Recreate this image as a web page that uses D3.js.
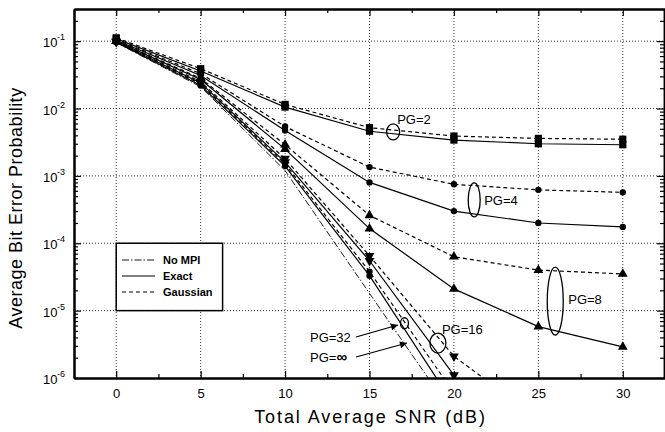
<!DOCTYPE html>
<html>
<head>
<meta charset="utf-8">
<script src="https://cdn.jsdelivr.net/npm/d3@7"></script>
<style>
  body { margin: 0; background: #fff; }
  text { font-family: "Liberation Sans", Arial, Helvetica, sans-serif; fill: #000; }
</style>
</head>
<body>
<script>
(function(){

  //data
  var snr = [0, 5, 10, 15, 20, 25, 30]; //total average SNR (dB)
  var pg2Exact = [0.108, 0.036, 0.0105, 0.0046, 0.0034, 0.0030, 0.0029];
  var pg2Gauss = [0.112, 0.039, 0.0115, 0.0052, 0.0039, 0.0036, 0.0035];
  var pg4Exact = [0.103, 0.031, 0.0047, 8.0e-4, 3.0e-4, 2.0e-4, 1.75e-4];
  var pg4Gauss = [0.105, 0.033, 0.0054, 1.35e-3, 7.5e-4, 6.2e-4, 5.7e-4];
  var pg8Exact = [0.100, 0.027, 0.0025, 1.65e-4, 2.1e-5, 5.8e-6, 2.9e-6];
  var pg8Gauss = [0.101, 0.028, 0.0029, 2.6e-4, 6.3e-5, 4.0e-5, 3.5e-5];
  var pg16Exact = [0.098, 0.024, 0.0016, 5.5e-5, 1.1e-6];
  var pg16Gauss = [0.099, 0.025, 0.0018, 6.5e-5, 2.1e-6, 2.5e-7];
  var pg32Exact = [0.096, 0.022, 0.0014, 3.3e-5, 4.0e-7];
  var pg32Gauss = [0.097, 0.023, 0.0015, 3.8e-5, 6.0e-7];
  var noMpi = [0.095, 0.021, 0.0012, 1.8e-5, 2.8e-7];

  var legendLabels = ["No MPI", "Exact", "Gaussian"];
  var xTicks = [0, 5, 10, 15, 20, 25, 30];
  var xMinorTicks = [-2.5, 2.5, 7.5, 12.5, 17.5, 22.5, 27.5, 32.5];
  var yTicks = [1e-1, 1e-2, 1e-3, 1e-4, 1e-5, 1e-6];
  var yExp = ["-1", "-2", "-3", "-4", "-5", "-6"];

  //annotations: label, centre (dB, BER), ellipse radii, text offset
  var groups = [
    {label: "PG=2", at: [16.4, 4.5e-3], rx: 6.5, ry: 8, tx: -2.5, ty: -8},
    {label: "PG=4", at: [21.2, 4.4e-4], rx: 6, ry: 17, tx: 4, ty: 5},
    {label: "PG=8", at: [26.0, 1.38e-5], rx: 8, ry: 34, tx: 5, ty: 3},
    {label: "PG=16", at: [19.05, 3.3e-6], rx: 8, ry: 10, tx: -4, ty: -9},
    {label: "", at: [17.07, 6.5e-6], rx: 4, ry: 5.5, tx: 0, ty: 0}
  ];

  var width = 665, height = 432;
  var left = 74, right = 665, top = 9, bottom = 378;

  var svg = d3.select("body")
    .append("svg")
    .attr("width", width)
    .attr("height", height);

  var defs = svg.append("defs");
  defs.append("clipPath").attr("id", "plotclip")
    .append("rect")
    .attr("x", left).attr("y", top)
    .attr("width", right - left).attr("height", bottom - top);
  defs.append("marker")
    .attr("id", "arrow")
    .attr("viewBox", "0 0 10 10")
    .attr("refX", 10).attr("refY", 5)
    .attr("markerWidth", 9).attr("markerHeight", 7)
    .attr("markerUnits", "userSpaceOnUse")
    .attr("orient", "auto")
    .append("path").attr("d", "M0,0L10,5L0,10z").attr("fill", "#000");

  var x = d3.scaleLinear().domain([-2.5, 32.5]).range([left, right]);
  var y = d3.scaleLog().domain([1e-6, 0.3]).range([bottom, top]);

  //grid
  var grid = svg.append("g").attr("stroke", "#000").attr("stroke-width", 0.8).attr("stroke-dasharray", "1,2");
  grid.selectAll(".vg").data(xTicks).enter().append("line")
    .attr("x1", function(d){ return x(d); }).attr("x2", function(d){ return x(d); })
    .attr("y1", top).attr("y2", bottom);
  grid.selectAll(".hg").data(yTicks.slice(0, 5)).enter().append("line")
    .attr("x1", left).attr("x2", right)
    .attr("y1", function(d){ return y(d); }).attr("y2", function(d){ return y(d); });

  //legend box
  var legend = svg.append("g");
  legend.append("rect")
    .attr("x", x(0)).attr("y", y(1e-4))
    .attr("width", x(6.3) - x(0)).attr("height", y(1e-5) - y(1e-4))
    .attr("fill", "#fff").attr("stroke", "#000").attr("stroke-width", 1.5);

  var styles = {
    nompi: {dash: "7,2,1.5,2", width: 0.9},
    exact: {dash: null, width: 1.2},
    gauss: {dash: "4,3", width: 1.2}
  };

  var curves = [
    {vals: pg2Exact, style: "exact", sym: "square"},
    {vals: pg2Gauss, style: "gauss", sym: "square"},
    {vals: pg4Exact, style: "exact", sym: "circle"},
    {vals: pg4Gauss, style: "gauss", sym: "circle"},
    {vals: pg8Exact, style: "exact", sym: "up"},
    {vals: pg8Gauss, style: "gauss", sym: "up"},
    {vals: pg16Exact, style: "exact", sym: "down"},
    {vals: pg16Gauss, style: "gauss", sym: "down"},
    {vals: pg32Exact, style: "exact", sym: "circle"},
    {vals: pg32Gauss, style: "gauss", sym: "circle"},
    {vals: noMpi, style: "nompi", sym: null}
  ];

  var line = d3.line()
    .x(function(d, i){ return x(snr[i]); })
    .y(function(d){ return y(d); });

  var plot = svg.append("g").attr("clip-path", "url(#plotclip)");

  curves.forEach(function(c){
    var st = styles[c.style];
    plot.append("path")
      .datum(c.vals)
      .attr("fill", "none")
      .attr("stroke", "#000")
      .attr("stroke-width", st.width)
      .attr("stroke-dasharray", st.dash)
      .attr("d", line);
  });

  var symbolFor = {
    square: d3.symbol().type(d3.symbolSquare).size(52),
    circle: d3.symbol().type(d3.symbolCircle).size(32),
    up: d3.symbol().type(d3.symbolTriangle).size(42),
    down: d3.symbol().type(d3.symbolTriangle).size(42)
  };

  curves.forEach(function(c){
    if (!c.sym) return;
    plot.selectAll(null)
      .data(c.vals.filter(function(d){ return d >= 1e-6; }))
      .enter().append("path")
      .attr("d", symbolFor[c.sym])
      .attr("fill", "#000")
      .attr("transform", function(d, i){
        return "translate(" + x(snr[i]) + "," + y(d) + ")" + (c.sym == "down" ? " rotate(180)" : "");
      });
  });

  //legend entries
  var legStyles = ["nompi", "exact", "gauss"];
  legendLabels.forEach(function(lab, i){
    var ly = 260 + i * 16;
    var st = styles[legStyles[i]];
    legend.append("line")
      .attr("x1", 122).attr("x2", 155)
      .attr("y1", ly).attr("y2", ly)
      .attr("stroke", "#000")
      .attr("stroke-width", st.width)
      .attr("stroke-dasharray", st.dash);
    legend.append("text")
      .attr("x", 163).attr("y", ly + 4)
      .style("font-family", "'Liberation Sans Narrow', 'Arial Narrow', sans-serif")
      .style("font-weight", "bold")
      .style("font-size", "11px")
      .text(lab);
  });

  //group ellipses and labels
  var ann = svg.append("g");
  groups.forEach(function(g){
    var cx = x(g.at[0]), cy = y(g.at[1]);
    ann.append("ellipse")
      .attr("cx", cx).attr("cy", cy)
      .attr("rx", g.rx).attr("ry", g.ry)
      .attr("fill", "none").attr("stroke", "#000").attr("stroke-width", 1.3);
    if (g.label) {
      ann.append("text")
        .attr("x", cx + g.rx + g.tx).attr("y", cy + g.ty)
        .style("font-size", "13px")
        .text(g.label);
    }
  });

  //arrowed labels for PG=32 and PG=inf
  ann.append("text").attr("x", 310).attr("y", 342).style("font-size", "13px").text("PG=32");
  ann.append("line").attr("x1", 356).attr("y1", 337).attr("x2", 398).attr("y2", 325)
    .attr("stroke", "#000").attr("stroke-width", 1.2).attr("marker-end", "url(#arrow)");
  var inf = ann.append("text").attr("x", 310).attr("y", 362).style("font-size", "13px");
  inf.append("tspan").text("PG=");
  inf.append("tspan").style("font-weight", "bold").style("font-size", "15px").text("\u221E");
  ann.append("line").attr("x1", 356).attr("y1", 357).attr("x2", 407).attr("y2", 343)
    .attr("stroke", "#000").attr("stroke-width", 1.2).attr("marker-end", "url(#arrow)");

  //axes
  function styleAxis(g, w){
    g.select(".domain").attr("stroke-width", w);
    g.selectAll(".tick line").attr("stroke-width", 1.2);
  }

  var yMinor = [];
  [1e-6, 1e-5, 1e-4, 1e-3, 1e-2, 1e-1].forEach(function(dec){
    for (var k = 2; k <= 9; k++){
      if (dec * k <= 0.3) yMinor.push(dec * k);
    }
  });

  svg.append("g").attr("transform", "translate(0," + bottom + ")")
    .call(d3.axisBottom(x).tickValues(xMinorTicks).tickSize(-4).tickSizeOuter(0).tickFormat(""))
    .call(styleAxis, 2);
  var xb = svg.append("g").attr("transform", "translate(0," + bottom + ")")
    .call(d3.axisBottom(x).tickValues(xTicks).tickSize(-7).tickSizeOuter(0).tickPadding(11).tickFormat(d3.format("d")))
    .call(styleAxis, 2);
  xb.selectAll("text").style("font-size", "13px").style("font-family", "'Liberation Sans', Arial, sans-serif");

  svg.append("g").attr("transform", "translate(0," + top + ")")
    .call(d3.axisTop(x).tickValues(xMinorTicks).tickSize(-4).tickSizeOuter(0).tickFormat(""))
    .call(styleAxis, 2);
  svg.append("g").attr("transform", "translate(0," + top + ")")
    .call(d3.axisTop(x).tickValues(xTicks).tickSize(-7).tickSizeOuter(0).tickFormat(""))
    .call(styleAxis, 2);

  svg.append("g").attr("transform", "translate(" + left + ",0)")
    .call(d3.axisLeft(y).tickValues(yMinor).tickSize(-4).tickSizeOuter(0).tickFormat(""))
    .call(styleAxis, 2);
  svg.append("g").attr("transform", "translate(" + left + ",0)")
    .call(d3.axisLeft(y).tickValues(yTicks).tickSize(-7).tickSizeOuter(0).tickFormat(""))
    .call(styleAxis, 2);

  svg.append("g").attr("transform", "translate(" + (right - 1) + ",0)")
    .call(d3.axisRight(y).tickValues(yMinor).tickSize(-4).tickSizeOuter(0).tickFormat(""))
    .call(styleAxis, 1.5);
  svg.append("g").attr("transform", "translate(" + (right - 1) + ",0)")
    .call(d3.axisRight(y).tickValues(yTicks).tickSize(-7).tickSizeOuter(0).tickFormat(""))
    .call(styleAxis, 1.5);

  //y tick labels 10^-n
  yTicks.forEach(function(t, i){
    var ty = y(t);
    svg.append("text")
      .attr("x", 43).attr("y", ty + 6)
      .style("font-size", "13px")
      .text("10");
    svg.append("text")
      .attr("x", 57).attr("y", ty - 1)
      .style("font-size", "9px")
      .text(yExp[i]);
  });

  //axis titles
  svg.append("text")
    .attr("x", (x(-2.5) + x(32.5)) / 2 + 1).attr("y", 423)
    .attr("text-anchor", "middle")
    .style("font-size", "18px")
    .style("letter-spacing", "1.9px")
    .text("Total Average SNR (dB)");

  svg.append("text")
    .attr("transform", "translate(22,208) rotate(-90)")
    .attr("text-anchor", "middle")
    .style("font-size", "18px")
    .style("letter-spacing", "0.5px")
    .text("Average Bit Error Probability");

})();
</script>
</body>
</html>
